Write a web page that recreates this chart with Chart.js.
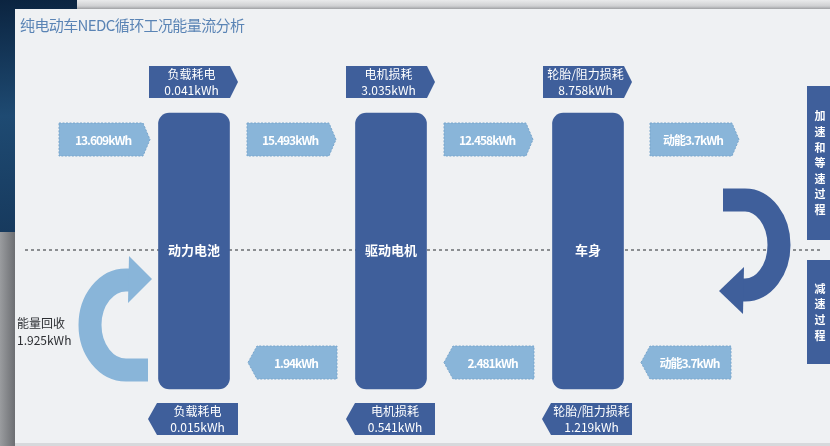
<!DOCTYPE html>
<html lang="zh">
<head>
<meta charset="UTF-8">
<title>纯电动车NEDC循环工况能量流分析</title>
<script src="https://cdn.jsdelivr.net/npm/chart.js"></script>
<style>
  html, body { margin: 0; padding: 0; background: #eff1f3; }
  #wrap { width: 830px; height: 446px; }
</style>
</head>
<body>
<div id="wrap"><canvas id="flow" width="830" height="446"></canvas></div>
<script>
// chart data
const title = '纯电动车NEDC循环工况能量流分析';
const stages = ['动力电池', '驱动电机', '车身'];
const lossNames = ['负载耗电', '电机损耗', '轮胎/阻力损耗'];
const driveLoss = [0.041, 3.035, 8.758];    // accel / cruise losses (top)
const brakeLoss = [0.015, 0.541, 1.219];    // decel losses (bottom)
const driveFlow = [13.609, 15.493, 12.458]; // forward energy between stages
const kinetic = 3.7;                        // kinetic energy of the body
const brakeFlow = [1.94, 2.481];            // energy flowing back
const recovered = 1.925;                    // energy recovered to battery
const phases = ['加速和等速过程', '减速过程'];

// layout (diagram units = pixels of the 830x446 picture)
const L = {
  colX: [194, 391, 588], colTop: 113, colBottom: 389, colW: 71, midY: 250,
  lossTop: [66, 98], lossBody: [[149, 230], [346, 427], [543, 624]],
  lossBot: [403, 435], lossBodyB: [[157, 238], [355, 435], [551, 632]],
  fwdY: [123, 156], fwdBody: [[59, 143], [247, 329], [444, 526], [650, 732]],
  backY: [346, 379], backBody: [[257, 337], [453, 534], [650, 731]],
  phaseX: [807, 832], phaseY: [[86, 240], [260, 364]]
};

const DARK = '#3f5f9b';
const LIGHT = '#89b5d9';
const kwh = v => v + 'kWh';

const diagram = {
  id: 'diagram',
  beforeDraw(chart) {
    const c = chart.ctx, W = chart.width, H = chart.height;
    c.save();
    c.fillStyle = '#c4c6c9';
    c.fillRect(0, 0, W, H);
    let g = c.createLinearGradient(0, 0, 0, 10);
    g.addColorStop(0, '#e9eaeb'); g.addColorStop(0.6, '#cfd0d2'); g.addColorStop(1, '#8f9194');
    c.fillStyle = g; c.fillRect(0, 0, W, 10);
    g = c.createLinearGradient(0, 0, 15, 232);
    g.addColorStop(0, '#0b2440'); g.addColorStop(0.5, '#1e4a72'); g.addColorStop(1, '#173a5e');
    c.fillStyle = g; c.fillRect(0, 0, 15, 232); c.fillRect(0, 0, 77, 9);
    g = c.createLinearGradient(0, 0, 15, 0);
    g.addColorStop(0, '#9a9c9f'); g.addColorStop(1, '#6c6e72');
    c.fillStyle = g; c.fillRect(0, 232, 15, H - 232);
    c.fillStyle = '#eff1f3'; c.fillRect(15, 9, W - 15, 434);
    c.fillStyle = '#d7d9dc'; c.fillRect(15, 443, W - 15, 3);
    c.restore();
  },
  beforeDatasetsDraw(chart) {
    const c = chart.ctx, x = chart.scales.x, y = chart.scales.y;
    const X = v => x.getPixelForValue(v), Y = v => y.getPixelForValue(v);
    c.save();
    // title
    c.fillStyle = '#5a84b5';
    c.font = '15px "Noto Sans CJK SC", sans-serif';
    c.letterSpacing = '-0.6px';
    c.textBaseline = 'middle';
    c.fillText(title, X(20), Y(25));
    c.letterSpacing = '0px';
    // dashed mid line
    c.strokeStyle = '#4a4d52'; c.lineWidth = 1.2; c.setLineDash([3, 3]);
    c.beginPath(); c.moveTo(X(25), Y(L.midY)); c.lineTo(X(823), Y(L.midY)); c.stroke();
    c.setLineDash([]);

    const pent = (x0, x1, tip, y0, y1, fill, dotted) => {
      const ym = (y0 + y1) / 2;
      c.beginPath();
      if (tip > x1) {
        c.moveTo(X(x0), Y(y0)); c.lineTo(X(x1), Y(y0)); c.lineTo(X(tip), Y(ym));
        c.lineTo(X(x1), Y(y1)); c.lineTo(X(x0), Y(y1));
      } else {
        c.moveTo(X(tip), Y(ym)); c.lineTo(X(x0), Y(y0)); c.lineTo(X(x1), Y(y0));
        c.lineTo(X(x1), Y(y1)); c.lineTo(X(x0), Y(y1));
      }
      c.closePath();
      c.fillStyle = fill; c.fill();
      if (dotted) {
        c.strokeStyle = '#79a6cc'; c.lineWidth = 1; c.setLineDash([2, 1.5]);
        c.stroke(); c.setLineDash([]);
      }
    };
    const twoLines = (a, b, cx, y0, y1) => {
      c.fillStyle = '#ffffff'; c.textAlign = 'center';
      c.font = '12px "Noto Sans CJK SC", sans-serif';
      const m = (y0 + y1) / 2;
      c.fillText(a, X(cx), Y(m - 7.5));
      c.fillText(b, X(cx), Y(m + 8.5));
    };
    const flowText = (t, cx, ym) => {
      c.fillStyle = '#ffffff'; c.textAlign = 'center';
      c.font = 'bold 12px "Noto Sans CJK SC", sans-serif';
      c.letterSpacing = '-1px';
      c.fillText(t, X(cx), Y(ym));
      c.letterSpacing = '0px';
    };

    // top losses (accel / cruise)
    L.lossBody.forEach((b, i) => {
      pent(b[0], b[1], b[1] + 8, L.lossTop[0], L.lossTop[1], DARK, false);
      twoLines(lossNames[i], kwh(driveLoss[i]), (b[0] + b[1]) / 2 + 2, L.lossTop[0], L.lossTop[1]);
    });
    // bottom losses (decel)
    L.lossBodyB.forEach((b, i) => {
      pent(b[0], b[1], b[0] - 9, L.lossBot[0], L.lossBot[1], DARK, false);
      twoLines(lossNames[i], kwh(brakeLoss[i]), (b[0] + b[1]) / 2, L.lossBot[0], L.lossBot[1]);
    });
    // forward flows
    const fwdLabels = driveFlow.map(kwh).concat(['动能' + kwh(kinetic)]);
    L.fwdBody.forEach((b, i) => {
      pent(b[0], b[1], b[1] + 7, L.fwdY[0], L.fwdY[1], LIGHT, true);
      flowText(fwdLabels[i], (b[0] + b[1]) / 2 + 2, (L.fwdY[0] + L.fwdY[1]) / 2 + 1);
    });
    // backward flows
    const backLabels = brakeFlow.map(kwh).concat(['动能' + kwh(kinetic)]);
    L.backBody.forEach((b, i) => {
      pent(b[0], b[1], b[0] - 9, L.backY[0], L.backY[1], LIGHT, true);
      flowText(backLabels[i], (b[0] + b[1]) / 2 - 1, (L.backY[0] + L.backY[1]) / 2 + 1);
    });

    // recovery C-arrow (light)
    c.strokeStyle = LIGHT; c.lineWidth = 23; c.lineCap = 'butt';
    c.beginPath();
    c.moveTo(X(148), Y(370)); c.lineTo(X(126), Y(370));
    c.ellipse(X(126), Y(325), 36, 45, 0, Math.PI / 2, Math.PI * 1.5);
    c.lineTo(X(131), Y(280));
    c.stroke();
    c.fillStyle = LIGHT;
    c.beginPath(); c.moveTo(X(129), Y(256)); c.lineTo(X(152), Y(279)); c.lineTo(X(128), Y(303)); c.closePath(); c.fill();

    // turn-around arrow (dark)
    c.strokeStyle = DARK;
    c.beginPath();
    c.moveTo(X(723), Y(200)); c.lineTo(X(745), Y(200));
    c.ellipse(X(745), Y(245), 34, 45, 0, -Math.PI / 2, Math.PI / 2);
    c.lineTo(X(741), Y(290));
    c.stroke();
    c.fillStyle = DARK;
    c.beginPath(); c.moveTo(X(744), Y(267)); c.lineTo(X(719), Y(291)); c.lineTo(X(743), Y(314)); c.closePath(); c.fill();

    // phase boxes
    L.phaseY.forEach((r, i) => {
      c.fillStyle = DARK;
      c.fillRect(X(L.phaseX[0]), Y(r[0]), X(L.phaseX[1]) - X(L.phaseX[0]), Y(r[1]) - Y(r[0]));
      const chars = [...phases[i]];
      const step = 15.6, mid = (r[0] + r[1]) / 2;
      c.fillStyle = '#ffffff'; c.textAlign = 'center';
      c.font = 'bold 11px "Noto Sans CJK SC", sans-serif';
      chars.forEach((ch, k) => {
        c.fillText(ch, X(820), Y(mid + (k - (chars.length - 1) / 2) * step));
      });
    });

    // recovery label
    c.fillStyle = '#2d2f33'; c.textAlign = 'left';
    c.font = '12px "Noto Sans CJK SC", sans-serif';
    c.fillText('能量回收', X(17), Y(323));
    c.fillText(kwh(recovered), X(17), Y(340));
    c.restore();
  },
  afterDatasetsDraw(chart) {
    const c = chart.ctx, x = chart.scales.x, y = chart.scales.y;
    c.save();
    c.fillStyle = '#ffffff'; c.textAlign = 'center'; c.textBaseline = 'middle';
    c.font = 'bold 13px "Noto Sans CJK SC", sans-serif';
    stages.forEach((s, i) => c.fillText(s, x.getPixelForValue(L.colX[i]), y.getPixelForValue(L.midY)));
    c.restore();
  }
};

new Chart(document.getElementById('flow'), {
  type: 'bar',
  data: {
    datasets: [{
      label: '能量节点',
      data: stages.map((s, i) => ({ x: L.colX[i], y: [L.colTop, L.colBottom] })),
      backgroundColor: DARK,
      borderWidth: 0,
      borderRadius: 11,
      borderSkipped: false,
      barThickness: L.colW
    }]
  },
  options: {
    responsive: false,
    animation: false,
    layout: { padding: 0 },
    scales: {
      x: { type: 'linear', min: 0, max: 830, offset: false, display: false },
      y: { type: 'linear', min: 0, max: 446, reverse: true, display: false }
    },
    plugins: { legend: { display: false }, tooltip: { enabled: false } }
  },
  plugins: [diagram]
});
</script>
</body>
</html>
